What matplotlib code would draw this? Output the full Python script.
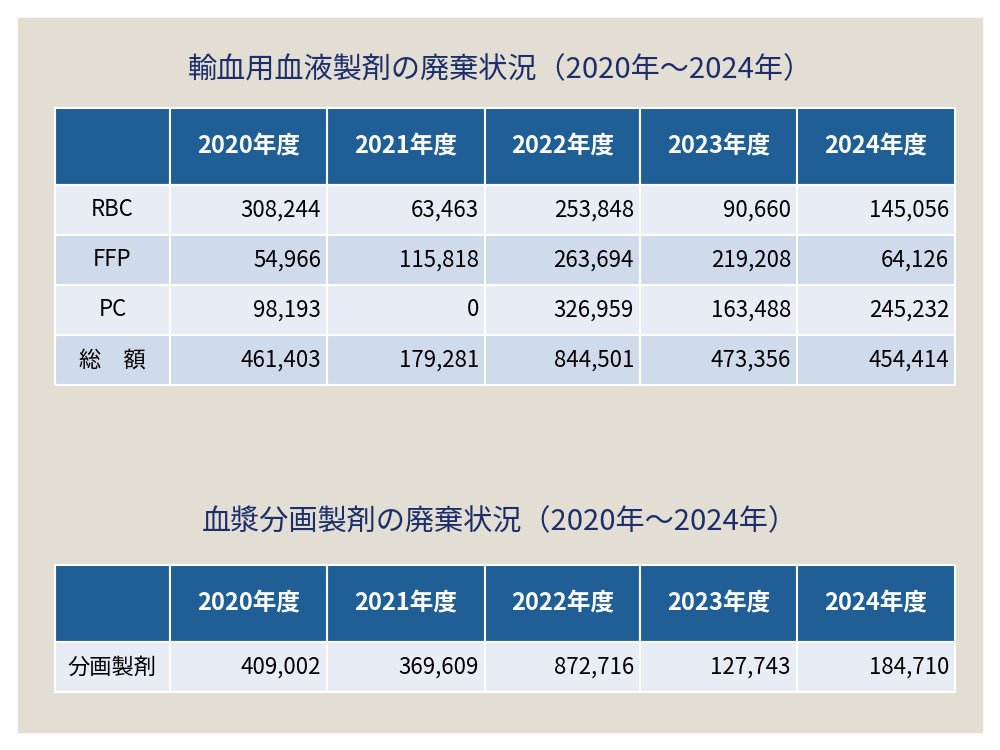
import matplotlib.pyplot as plt
from matplotlib.patches import Rectangle

plt.rcParams['font.family'] = 'Noto Sans CJK JP'

years = ['2020年度', '2021年度', '2022年度', '2023年度', '2024年度']
rows1 = ['RBC', 'FFP', 'PC', '総\u3000額']
rbc = [308244, 63463, 253848, 90660, 145056]
ffp = [54966, 115818, 263694, 219208, 64126]
pc = [98193, 0, 326959, 163488, 245232]
total = [461403, 179281, 844501, 473356, 454414]
rows2 = ['分画製剤']
fractions = [409002, 369609, 872716, 127743, 184710]

title1 = '輸血用血液製剤の廃棄状況（2020年～2024年）'
title2 = '血漿分画製剤の廃棄状況（2020年～2024年）'

HEAD = '#1f5f96'
LIGHT = '#e8edf5'
DARK = '#cfdbeb'
NAVY = '#1c2f6b'

fig = plt.figure(figsize=(10, 7.5), dpi=100)
ax = fig.add_axes([0, 0, 1, 1])
ax.set_xlim(0, 1000)
ax.set_ylim(750, 0)
ax.axis('off')
ax.add_patch(Rectangle((18, 18), 964, 714, color='#e3ded3'))

col_x = [55, 170, 327, 485, 640, 797, 955]


def draw_table(top, head_h, row_h, labels, data):
    # header row
    for i in range(6):
        ax.add_patch(Rectangle((col_x[i], top), col_x[i + 1] - col_x[i], head_h,
                               facecolor=HEAD, edgecolor='white', lw=1.5))
        if i > 0:
            ax.text((col_x[i] + col_x[i + 1]) / 2, top + head_h / 2, years[i - 1],
                    ha='center', va='center', color='white', fontsize=17, fontweight='bold')
    for r, (lab, vals) in enumerate(zip(labels, data)):
        y = top + head_h + r * row_h
        fill = LIGHT if r % 2 == 0 else DARK
        for i in range(6):
            ax.add_patch(Rectangle((col_x[i], y), col_x[i + 1] - col_x[i], row_h,
                                   facecolor=fill, edgecolor='white', lw=1.5))
        ax.text((col_x[0] + col_x[1]) / 2, y + row_h / 2, lab,
                ha='center', va='center', fontsize=16, color='black')
        for i, v in enumerate(vals):
            ax.text(col_x[i + 2] - 6, y + row_h / 2, f'{v:,}',
                    ha='right', va='center', fontsize=16, color='black')


ax.text(500, 70, title1, ha='center', va='center', fontsize=21, color=NAVY)
draw_table(108, 77, 50, rows1, [rbc, ffp, pc, total])

ax.text(500, 522, title2, ha='center', va='center', fontsize=21, color=NAVY)
draw_table(565, 77, 50, rows2, [fractions])

fig.savefig('out.png', dpi=100)
